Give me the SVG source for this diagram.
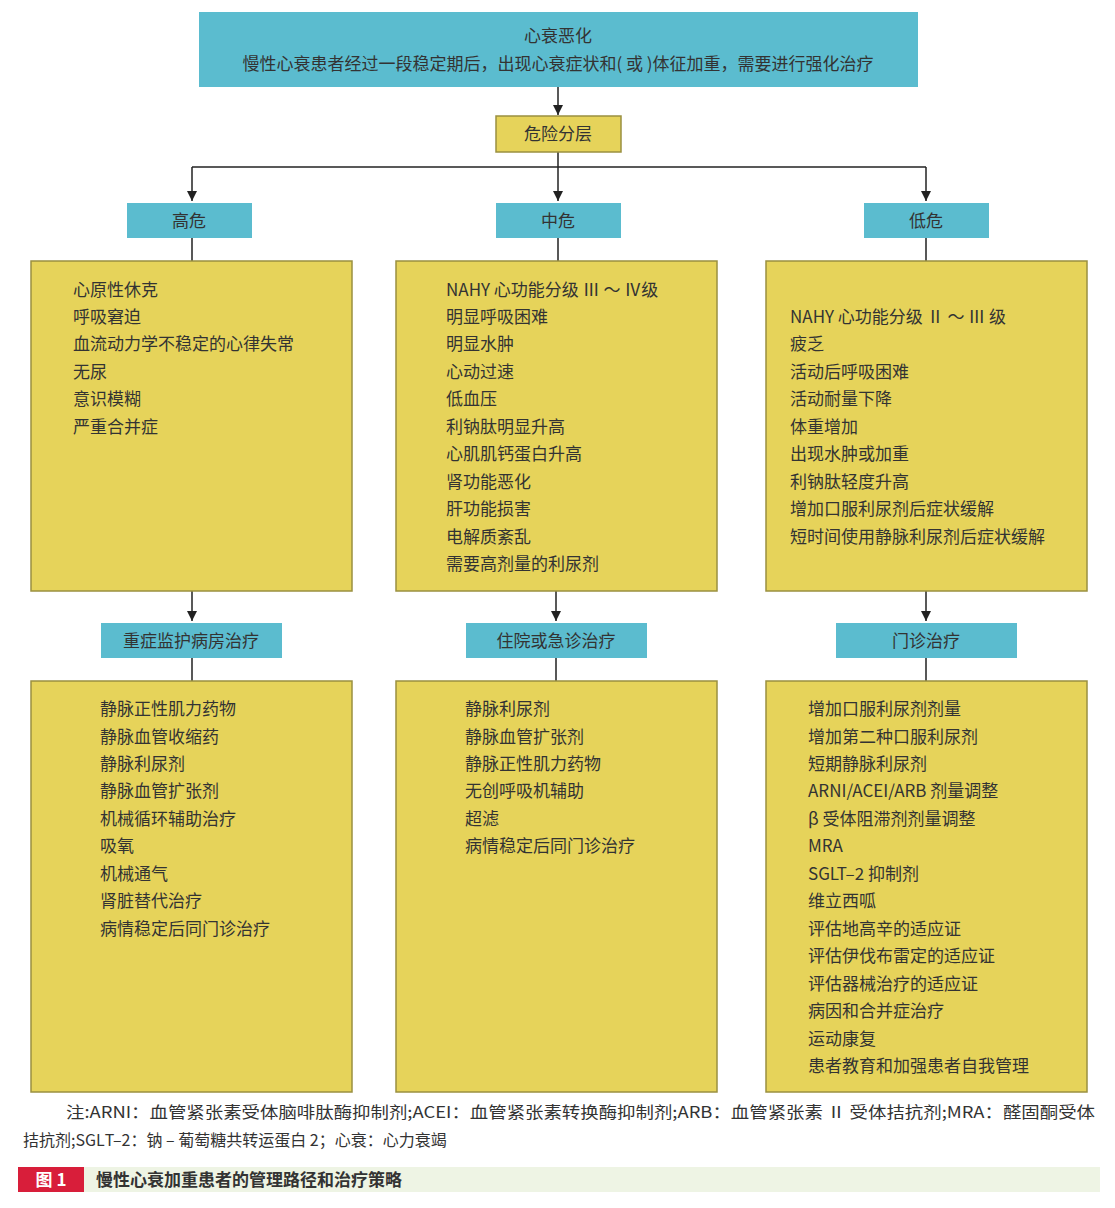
<svg xmlns="http://www.w3.org/2000/svg" width="1115" height="1208" viewBox="0 0 1115 1208">
<style>
text{font-family:"Noto Sans CJK SC","Liberation Sans",sans-serif;fill:#333;font-size:17px}
.c{text-anchor:middle}
.b{fill:#5bbccf}
.y{fill:#e6d35a;stroke:#9a9040;stroke-width:1.5}
.l{stroke:#222;stroke-width:1.5;fill:none}
</style>
<defs><marker id="a" markerWidth="10" markerHeight="12" refX="5" refY="12" orient="auto" markerUnits="userSpaceOnUse" viewBox="0 0 10 12"><path d="M0,0 L10,0 L5,12 Z" fill="#222" transform="rotate(-90 5 6) translate(-1 1)"/></marker>
<marker id="m" markerWidth="10" markerHeight="14" refX="10" refY="5" orient="auto" markerUnits="userSpaceOnUse"><path d="M0,0 L10,5 L0,10 Z" fill="#222"/></marker></defs>
<rect width="1115" height="1208" fill="#fff"/>
<g id="connectors">
<path class="l" d="M558,87 V115" marker-end="url(#m)"/>
<path class="l" d="M558,152 V201"  marker-end="url(#m)"/>
<path class="l" d="M192,167 H926"/>
<path class="l" d="M192,167 V201" marker-end="url(#m)"/>
<path class="l" d="M926,167 V201" marker-end="url(#m)"/>
<path class="l" d="M192,238 V261 M558,238 V261 M926,238 V261"/>
<path class="l" d="M192,591 V621" marker-end="url(#m)"/>
<path class="l" d="M556,591 V621" marker-end="url(#m)"/>
<path class="l" d="M926,591 V621" marker-end="url(#m)"/>
<path class="l" d="M192,658 V681 M556,658 V681 M926,658 V681"/>
</g>
<g id="top"><rect class="b" x="199" y="12" width="719" height="75"/>
<text class="c" x="558" y="42">心衰恶化</text>
<text class="c" x="558" y="70">慢性心衰患者经过一段稳定期后，出现心衰症状和( 或 )体征加重，需要进行强化治疗</text></g>
<g id="risk"><rect class="y" x="496" y="116" width="125" height="36"/><text class="c" x="558" y="140">危险分层</text></g>
<g id="high"><rect class="b" x="127" y="203" width="125" height="35"/><text class="c" x="189" y="227">高危</text></g>
<g id="mid"><rect class="b" x="496" y="203" width="125" height="35"/><text class="c" x="558" y="227">中危</text></g>
<g id="low"><rect class="b" x="864" y="203" width="125" height="35"/><text class="c" x="926" y="227">低危</text></g>
<g id="highList"><rect class="y" x="31" y="261" width="321" height="330"/>
<text x="73" y="296">心原性休克</text><text x="73" y="323">呼吸窘迫</text><text x="73" y="350">血流动力学不稳定的心律失常</text><text x="73" y="378">无尿</text><text x="73" y="405">意识模糊</text><text x="73" y="433">严重合并症</text></g>
<g id="midList"><rect class="y" x="396" y="261" width="321" height="330"/>
<text x="446" y="296">NAHY 心功能分级 Ⅲ ～ Ⅳ级</text><text x="446" y="323">明显呼吸困难</text><text x="446" y="350">明显水肿</text><text x="446" y="378">心动过速</text><text x="446" y="405">低血压</text><text x="446" y="433">利钠肽明显升高</text><text x="446" y="460">心肌肌钙蛋白升高</text><text x="446" y="488">肾功能恶化</text><text x="446" y="515">肝功能损害</text><text x="446" y="543">电解质紊乱</text><text x="446" y="570">需要高剂量的利尿剂</text></g>
<g id="lowList"><rect class="y" x="766" y="261" width="321" height="330"/>
<text x="790" y="323">NAHY 心功能分级 Ⅱ ～ Ⅲ 级</text><text x="790" y="350">疲乏</text><text x="790" y="378">活动后呼吸困难</text><text x="790" y="405">活动耐量下降</text><text x="790" y="433">体重增加</text><text x="790" y="460">出现水肿或加重</text><text x="790" y="488">利钠肽轻度升高</text><text x="790" y="515">增加口服利尿剂后症状缓解</text><text x="790" y="543">短时间使用静脉利尿剂后症状缓解</text></g>
<g id="icu"><rect class="b" x="101" y="623" width="181" height="35"/><text class="c" x="191" y="647">重症监护病房治疗</text></g>
<g id="hosp"><rect class="b" x="466" y="623" width="181" height="35"/><text class="c" x="556" y="647">住院或急诊治疗</text></g>
<g id="out"><rect class="b" x="836" y="623" width="181" height="35"/><text class="c" x="926" y="647">门诊治疗</text></g>
<g id="icuList"><rect class="y" x="31" y="681" width="321" height="411"/>
<text x="100" y="715">静脉正性肌力药物</text><text x="100" y="743">静脉血管收缩药</text><text x="100" y="770">静脉利尿剂</text><text x="100" y="797">静脉血管扩张剂</text><text x="100" y="825">机械循环辅助治疗</text><text x="100" y="852">吸氧</text><text x="100" y="880">机械通气</text><text x="100" y="907">肾脏替代治疗</text><text x="100" y="935">病情稳定后同门诊治疗</text></g>
<g id="hospList"><rect class="y" x="396" y="681" width="321" height="411"/>
<text x="465" y="715">静脉利尿剂</text><text x="465" y="743">静脉血管扩张剂</text><text x="465" y="770">静脉正性肌力药物</text><text x="465" y="797">无创呼吸机辅助</text><text x="465" y="825">超滤</text><text x="465" y="852">病情稳定后同门诊治疗</text></g>
<g id="outList"><rect class="y" x="766" y="681" width="321" height="411"/>
<text x="808" y="715">增加口服利尿剂剂量</text><text x="808" y="743">增加第二种口服利尿剂</text><text x="808" y="770">短期静脉利尿剂</text><text x="808" y="797">ARNI/ACEI/ARB 剂量调整</text><text x="808" y="825">β 受体阻滞剂剂量调整</text><text x="808" y="852">MRA</text><text x="808" y="880">SGLT–2 抑制剂</text><text x="808" y="907">维立西呱</text><text x="808" y="935">评估地高辛的适应证</text><text x="808" y="962">评估伊伐布雷定的适应证</text><text x="808" y="990">评估器械治疗的适应证</text><text x="808" y="1017">病因和合并症治疗</text><text x="808" y="1045">运动康复</text><text x="808" y="1072">患者教育和加强患者自我管理</text></g>
<g id="note">
<text x="66" y="1118" style="font-size:16px" textLength="1029" lengthAdjust="spacingAndGlyphs">注:ARNI：血管紧张素受体脑啡肽酶抑制剂;ACEI：血管紧张素转换酶抑制剂;ARB：血管紧张素 Ⅱ 受体拮抗剂;MRA：醛固酮受体</text>
<text x="23" y="1146" style="font-size:16px">拮抗剂;SGLT–2：钠 – 葡萄糖共转运蛋白 2；心衰：心力衰竭</text>
</g>
<g id="caption"><rect x="18" y="1167" width="1082" height="25" fill="#eef4e4"/><rect x="18" y="1167" width="66" height="25" fill="#d81e3a"/>
<text x="51" y="1186" class="c" style="fill:#fff;font-weight:bold">图 1</text>
<text x="96" y="1186" style="font-weight:bold">慢性心衰加重患者的管理路径和治疗策略</text></g>
</svg>
